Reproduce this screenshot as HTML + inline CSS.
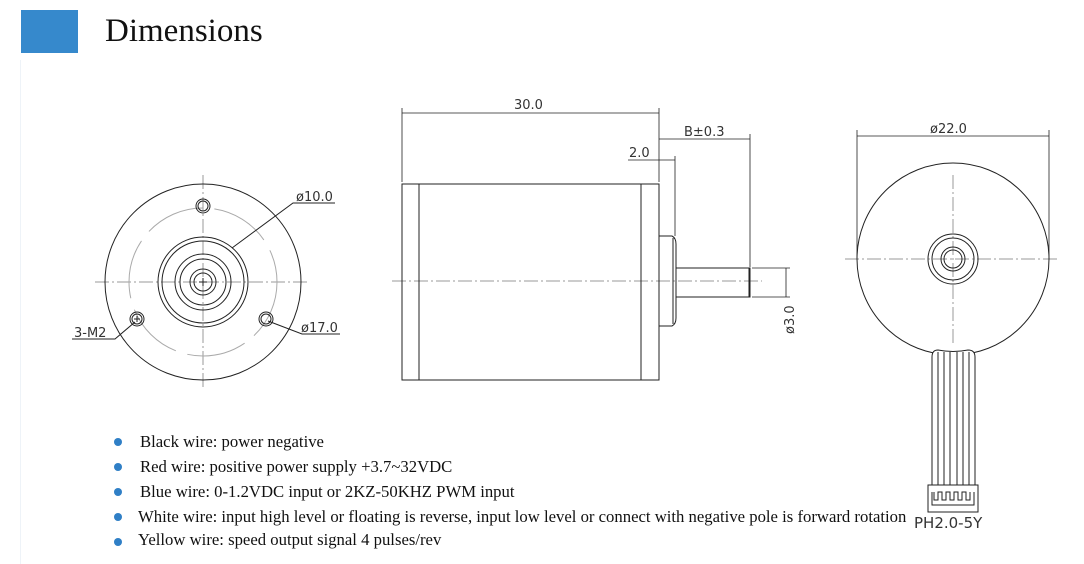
<!DOCTYPE html>
<html><head><style>
html,body{margin:0;padding:0;background:#fff;}
body{width:1084px;height:564px;position:relative;overflow:hidden;font-family:"Liberation Serif",serif;}
.sq{position:absolute;left:21px;top:10px;width:57px;height:43px;background:#3689cc;}
.ttl{position:absolute;left:105px;top:13px;font-size:33px;color:#111;}
.vl{position:absolute;left:20px;top:60px;width:1px;height:504px;background:#eef3f8;}
ul{position:absolute;left:110px;top:429px;margin:0;padding:0;list-style:none;font-size:16.7px;color:#111;}
li{height:25px;line-height:25px;position:relative;padding-left:30px;white-space:nowrap;}
li:before{content:"";position:absolute;left:4px;top:9px;width:8px;height:8px;border-radius:50%;background:#2f7fc6;}
</style></head><body>
<div class="sq"></div><div class="ttl">Dimensions</div><div class="vl"></div>
<svg width="1084" height="564" style="position:absolute;left:0;top:0" font-family="DejaVu Sans, sans-serif" font-size="14" fill="none" stroke="#222" stroke-width="1">
<g>
<line x1="95" y1="282" x2="310" y2="282" stroke="#999" stroke-dasharray="14 3 2 3"/>
<line x1="203" y1="175" x2="203" y2="390" stroke="#999" stroke-dasharray="14 3 2 3"/>
<circle cx="203" cy="282" r="98"/>
<circle cx="203" cy="282" r="74" stroke="#aaa" stroke-dasharray="60 12"/>
<circle cx="203" cy="282" r="45"/><circle cx="203" cy="282" r="41"/>
<circle cx="203" cy="282" r="28"/><circle cx="203" cy="282" r="23"/>
<circle cx="203" cy="282" r="13"/><circle cx="203" cy="282" r="9"/>
<path d="M199 282h8M203 278v8"/>
<circle cx="203" cy="206" r="7"/><circle cx="203" cy="206" r="5"/>
<circle cx="137" cy="319" r="7"/><circle cx="137" cy="319" r="5"/><path d="M134 319h6M137 316v6"/>
<circle cx="266" cy="319" r="7"/><circle cx="266" cy="319" r="5"/>
<path d="M335 203H293L232 248"/><path d="M340 334H302L268 321"/><path d="M72 339H115L135 322"/>
<g fill="#333" stroke="none" font-size="13"><text x="296" y="201">ø10.0</text><text x="301" y="332">ø17.0</text><text x="74" y="337">3-M2</text></g>
</g>
<g>
<line x1="392" y1="281" x2="762" y2="281" stroke="#999" stroke-dasharray="14 3 2 3"/>
<rect x="402" y="184" width="257" height="196"/>
<line x1="419" y1="184" x2="419" y2="380"/><line x1="641" y1="184" x2="641" y2="380"/>
<path d="M659 236H672Q676 238 676 244V318Q676 324 672 326H659"/>
<line x1="673" y1="238" x2="673" y2="324"/>
<rect x="676" y="268" width="74" height="29"/><line x1="749" y1="268" x2="749" y2="297"/>
<path d="M402 108V182M659 108V182M402 113H659" stroke-width="0.8"/>
<path d="M659 139H750M750 134V267" stroke-width="0.8"/>
<path d="M628 160H675M675 156V236" stroke-width="0.8"/>
<path d="M752 268H790M752 297H790M786 268V297" stroke-width="0.8"/>
<g fill="#333" stroke="none" font-size="13"><text x="514" y="109">30.0</text><text x="684" y="136">B±0.3</text><text x="629" y="157">2.0</text>
<text transform="translate(794,334) rotate(-90)">ø3.0</text></g>
</g>
<g>
<line x1="845" y1="259" x2="1060" y2="259" stroke="#999" stroke-dasharray="14 3 2 3"/>
<line x1="953" y1="175" x2="953" y2="345" stroke="#999" stroke-dasharray="14 3 2 3"/>
<circle cx="953" cy="259" r="96"/>
<circle cx="953" cy="259" r="25"/><circle cx="953" cy="259" r="21"/>
<circle cx="953" cy="259" r="12"/><circle cx="953" cy="259" r="9"/>
<path d="M857 130V259M1049 130V259M857 136H1049" stroke-width="0.8"/>
<path d="M932 485V357Q932 350 938 350Q953 353 968 350Q975 350 975 357V485" fill="#fff"/>
<path d="M938 352V485M944 352V485M950 352V485M957 352V485M963 352V485M969 352V485"/>
<rect x="928" y="485" width="50" height="27" fill="#fff"/>
<path d="M932 492V505H974V492M934 492v8h4v-8h4v8h4v-8h4v8h4v-8h4v8h4v-8h4v8h4v-8"/>
<g fill="#333" stroke="none" font-size="13"><text x="930" y="133">ø22.0</text><text x="914" y="528" font-size="15">PH2.0-5Y</text></g>
</g>
</svg>
<ul>
<li>Black wire: power negative</li>
<li>Red wire: positive power supply +3.7~32VDC</li>
<li>Blue wire: 0-1.2VDC input or 2KZ-50KHZ PWM input</li>
<li style="padding-left:28px">White wire: input high level or floating is reverse, input low level or connect with negative pole is forward rotation</li>
<li style="padding-left:28px;height:22px;line-height:22px">Yellow wire: speed output signal 4 pulses/rev</li>
</ul>
</body></html>
